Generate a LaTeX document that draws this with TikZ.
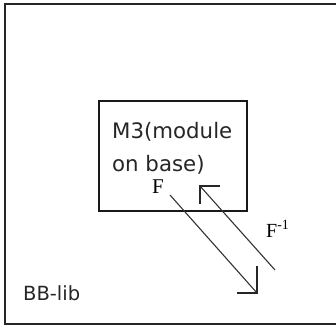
\documentclass[tikz,border=0pt]{standalone}
\usepackage{fontspec}
\setmainfont{Liberation Serif}
\setsansfont{DejaVu Sans}
\begin{document}
\begin{tikzpicture}[x=1pt,y=-1pt,
  frame/.style={draw=black!85,line width=1.3pt},
  modbox/.style={draw=black!90,line width=1.6pt},
  label/.style={font=\sffamily\fontsize{21.3}{33}\selectfont,text=black!85,inner sep=0pt},
  liblabel/.style={font=\sffamily\fontsize{19.5}{24}\selectfont,text=black!85,inner sep=0pt},
  maplabel/.style={font=\rmfamily\fontsize{#1}{24}\selectfont,text=black,inner sep=0pt},
  conn/.style={draw=black!80,line width=1.1pt},
  head/.style={draw=black!85,line width=1.3pt,line cap=rect}]
  \useasboundingbox (0,0) rectangle (336,326);
  % the library frame (runs off the right side)
  \begin{scope}
    \clip (0,0) rectangle (336,326);
    \draw[frame] (340,4) -- (5,4) -- (5,324) -- (340,324);
  \end{scope}
  % module box
  \node[modbox,minimum width=148pt,minimum height=110pt,anchor=north west,inner sep=0pt] (m3) at (98,100) {};
  \node[label,anchor=base west,align=left] (m3txt) at (112,171) {M3(module\\on base)};
  \node[maplabel=21,anchor=base west] (flab) at (152,193) {F};
  \node[maplabel=20,anchor=base west] (finv) at (266,237) {F\textsuperscript{-1}};
  \node[liblabel,anchor=base west] (lib) at (23,300) {BB-lib};
  % map ends
  \coordinate (fs) at (170,195);
  \coordinate (fe) at (257,293);
  \coordinate (gs) at (275,270);
  \coordinate (ge) at (200,186);
  % F: down out of the module
  \draw[conn] (fs) -- (fe);
  \draw[head] (fe) -- ++(-19,0);
  \draw[head] (fe) -- ++(0,-26);
  % F^-1: back into the module
  \draw[conn] (gs) -- (ge);
  \draw[head] (ge) -- ++(19,0);
  \draw[head] (ge) -- ++(0,17);
\end{tikzpicture}
\end{document}
